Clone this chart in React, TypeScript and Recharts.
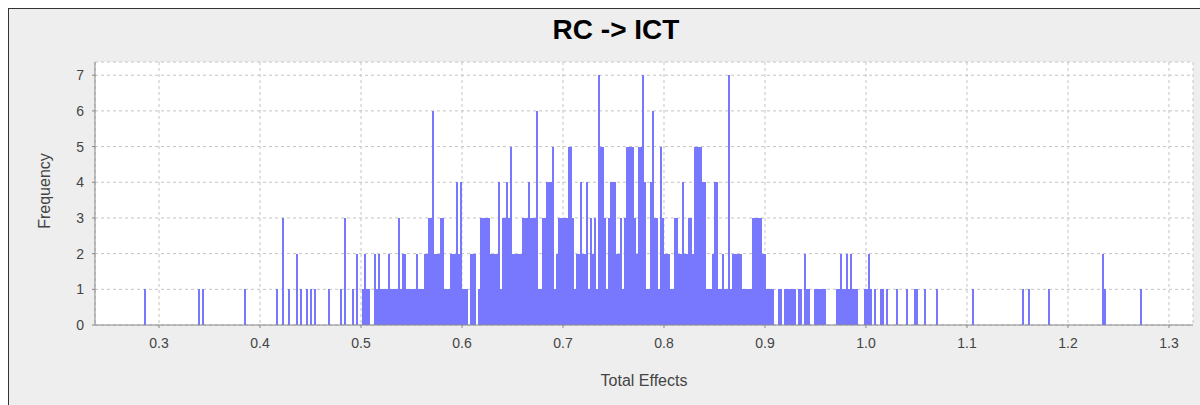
import { BarChart, Bar, XAxis, YAxis, CartesianGrid } from 'recharts'

// histogram of 500 bins, counts
const binStart = 0.2851
const binWidth = 0.00198

const counts = [
  1, 0, 0, 0, 0, 0, 0, 0, 0, 0, 0, 0, 0, 0, 0, 0, 0, 0, 0, 0, 0, 0, 0, 0, 0,
  0, 0, 1, 0, 1, 0, 0, 0, 0, 0, 0, 0, 0, 0, 0, 0, 0, 0, 0, 0, 0, 0, 0, 0, 0,
  1, 0, 0, 0, 0, 0, 0, 0, 0, 0, 0, 0, 0, 0, 0, 0, 1, 0, 0, 3, 0, 0, 1, 0, 0,
  0, 2, 0, 1, 0, 0, 1, 0, 1, 0, 1, 0, 0, 0, 0, 0, 0, 1, 0, 0, 0, 0, 0, 1, 0,
  3, 0, 0, 0, 1, 0, 2, 0, 0, 1, 2, 1, 1, 0, 0, 2, 1, 2, 1, 1, 1, 1, 2, 1, 1,
  1, 1, 3, 1, 2, 2, 1, 1, 1, 1, 1, 2, 1, 1, 1, 2, 2, 3, 3, 6, 2, 2, 2, 3, 3,
  1, 1, 1, 2, 2, 2, 4, 2, 4, 1, 1, 1, 0, 2, 2, 2, 0, 1, 3, 3, 3, 3, 3, 2, 2,
  2, 2, 4, 1, 3, 3, 4, 3, 5, 2, 2, 2, 2, 2, 3, 3, 3, 4, 3, 3, 3, 6, 1, 1, 3,
  3, 4, 4, 4, 5, 1, 2, 3, 3, 3, 3, 3, 5, 5, 3, 1, 2, 2, 4, 2, 2, 4, 1, 3, 2,
  3, 1, 7, 5, 5, 3, 1, 3, 4, 4, 4, 2, 2, 3, 1, 3, 5, 5, 5, 5, 3, 2, 5, 5, 7,
  4, 1, 1, 4, 6, 3, 3, 1, 5, 3, 2, 2, 2, 1, 1, 3, 3, 2, 2, 4, 2, 2, 3, 3, 2,
  5, 5, 5, 5, 4, 4, 1, 1, 1, 2, 4, 4, 1, 1, 2, 1, 1, 7, 1, 2, 2, 2, 2, 2, 1,
  1, 1, 1, 1, 3, 3, 3, 3, 3, 2, 2, 1, 1, 1, 1, 0, 0, 1, 1, 0, 1, 1, 1, 1, 1,
  1, 0, 1, 1, 0, 2, 1, 1, 0, 0, 1, 1, 1, 1, 1, 1, 0, 0, 0, 0, 0, 1, 1, 2, 1,
  1, 2, 1, 2, 1, 1, 1, 0, 0, 0, 1, 1, 2, 1, 0, 1, 0, 0, 1, 1, 0, 1, 0, 0, 0,
  0, 1, 0, 0, 0, 0, 1, 0, 0, 0, 1, 1, 0, 0, 0, 1, 0, 0, 0, 0, 0, 1, 0, 0, 0,
  0, 0, 0, 0, 0, 0, 0, 0, 0, 0, 0, 0, 0, 0, 1, 0, 0, 0, 0, 0, 0, 0, 0, 0, 0,
  0, 0, 0, 0, 0, 0, 0, 0, 0, 0, 0, 0, 0, 0, 1, 0, 0, 1, 0, 0, 0, 0, 0, 0, 0,
  0, 0, 1, 0, 0, 0, 0, 0, 0, 0, 0, 0, 0, 0, 0, 0, 0, 0, 0, 0, 0, 0, 0, 0, 0,
  0, 0, 0, 0, 2, 1, 0, 0, 0, 0, 0, 0, 0, 0, 0, 0, 0, 0, 0, 0, 0, 0, 0, 1, 0,
]

const xTicks = [0.3, 0.4, 0.5, 0.6, 0.7, 0.8, 0.9, 1.0, 1.1, 1.2, 1.3]
const yTicks = [0, 1, 2, 3, 4, 5, 6, 7]
const xDomain = [0.2366, 1.3238]
const yDomain = [0, 7.37]

const data = counts
  .map((c, i) => ({ effect: binStart + (i + 0.5) * binWidth, frequency: c }))
  .filter(d => d.frequency > 0)

const font = '"Liberation Sans", Arial, sans-serif'
const axisGray = '#888888'
const tickStyle = { fontSize: 14, fill: '#444444', fontFamily: font }

export default function App() {
  return (
    <div style={{ position: 'absolute', left: 0, top: 0, width: 1200, height: 405, background: '#fff', overflow: 'hidden' }}>
      <style>{'.recharts-bar-rectangle path { shape-rendering: crispEdges; }'}</style>
      <div
        style={{
          position: 'absolute',
          left: 8,
          top: 8,
          width: 1200,
          height: 400,
          background: '#eeeeee',
          borderLeft: '1px solid #333',
          borderTop: '1px solid #333'
        }}
      />
      <div
        style={{
          position: 'absolute',
          left: 16,
          width: 1200,
          top: 14,
          textAlign: 'center',
          fontFamily: font,
          fontWeight: 'bold',
          fontSize: 28,
          color: '#000'
        }}
      >
        RC -&gt; ICT
      </div>
      <div
        style={{
          position: 'absolute',
          left: 45,
          top: 191,
          transform: 'translate(-50%, -50%) rotate(-90deg)',
          fontFamily: font,
          fontSize: 16,
          color: '#444444',
          whiteSpace: 'nowrap'
        }}
      >
        Frequency
      </div>
      <div
        style={{
          position: 'absolute',
          left: 644,
          top: 381,
          transform: 'translate(-50%, -50%)',
          fontFamily: font,
          fontSize: 16,
          color: '#444444',
          whiteSpace: 'nowrap'
        }}
      >
        Total Effects
      </div>
      <div style={{ position: 'absolute', left: 0, top: 0 }}>
        <BarChart
          width={1200}
          height={405}
          data={data}
          margin={{ top: 62, right: 7, bottom: 0, left: 0 }}
          barGap={0}
        >
          <CartesianGrid
            fill="#ffffff"
            stroke="#c4c4c4"
            strokeDasharray="3 3"
          />
          <XAxis
            dataKey="effect"
            type="number"
            domain={xDomain}
            ticks={xTicks}
            allowDataOverflow
            height={80}
            tickSize={3}
            tickMargin={10}
            tickFormatter={(v: number) => v.toFixed(1)}
            tick={tickStyle}
            stroke={axisGray}
          />
          <XAxis
            xAxisId="top"
            orientation="top"
            dataKey="effect"
            type="number"
            domain={xDomain}
            allowDataOverflow
            height={0}
            tick={false}
            tickLine={false}
            stroke={axisGray}
          />
          <YAxis
            type="number"
            domain={yDomain}
            ticks={yTicks}
            allowDataOverflow
            width={95}
            tickSize={3}
            tickMargin={8}
            tick={tickStyle}
            stroke={axisGray}
          />
          <YAxis
            yAxisId="right"
            orientation="right"
            type="number"
            domain={yDomain}
            width={0}
            tick={false}
            tickLine={false}
            stroke={axisGray}
          />
          <Bar
            dataKey="frequency"
            fill="#7878ff"
            barSize={2}
            isAnimationActive={false}
          />
        </BarChart>
      </div>
    </div>
  )
}
